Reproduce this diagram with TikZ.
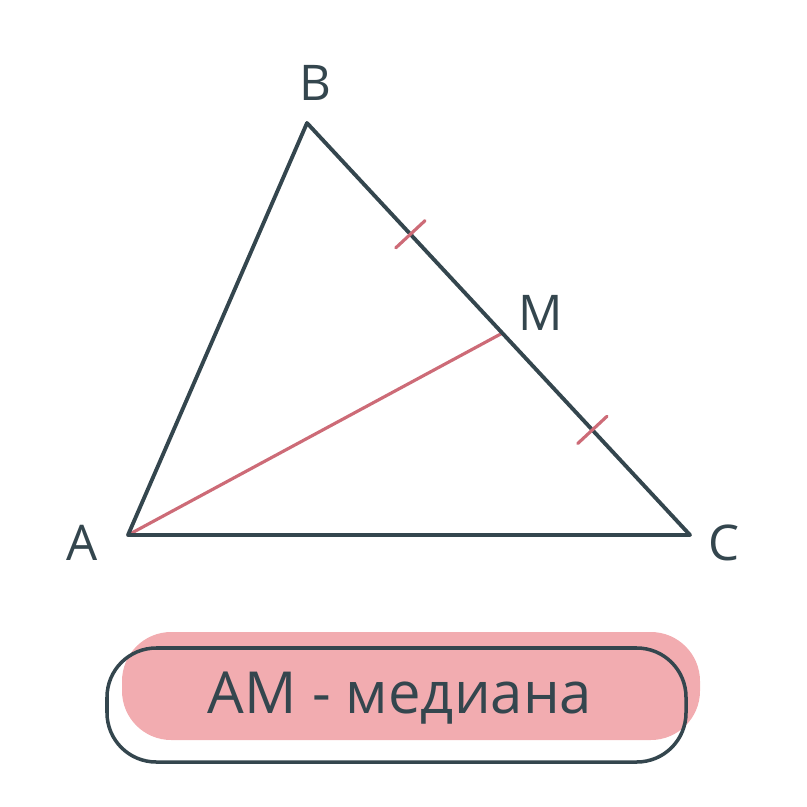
\documentclass[tikz,border=0pt]{standalone}
\usepackage{fontspec}
\setmainfont{Open Sans}
\usepackage{tikz}
\usetikzlibrary{calc,positioning}
\definecolor{ardoise}{RGB}{52,70,78}
\definecolor{rose}{RGB}{205,107,119}
\definecolor{rosepale}{RGB}{242,172,176}

\begin{document}
\begin{tikzpicture}[x=0.02cm, y=-0.02cm,
    cote/.style={ardoise, line width=2.2pt, line join=round},
    mediane/.style={rose, line width=1.8pt, line cap=round},
    trait/.style={rose, line width=1.8pt, line cap=round},
    lettre/.style={ardoise, font=\fontsize{28}{30}\selectfont}]
% Cadre
\useasboundingbox (0,0) rectangle (807,807);

% Sommets
\coordinate (A) at (128,535);
\coordinate (B) at (307,123);
\coordinate (C) at (690,535);
\coordinate (M) at ($(B)!0.51!(C)$);

% Mediane
\draw[mediane] (A) -- (M);

% Triangle
\draw[cote] (A) -- (B) -- (C) -- cycle;

% Marques d'egalite
\foreach \t/\nom in {0.27/t1, 0.745/t2} {
    \coordinate (\nom) at ($(B)!\t!(C)$);
    \draw[trait] ($(\nom)!0.4cm!90:(C)$) -- ($(\nom)!0.4cm!-90:(C)$);
}

% Noms des sommets
\node[lettre] (nA) at (82,543) {A};
\node[lettre] (nB) at (315,83) {B};
\node[lettre] (nC) at (724,543) {C};
\node[lettre] (nM) at (541,313) {M};

% Encadre
\fill[rosepale, rounded corners=28] (122,632) rectangle (700,740);
\draw[ardoise, line width=2pt, rounded corners=28] (107,648) rectangle (686,762);
\node[ardoise, font=\fontsize{33}{36}\selectfont] (titre) at (400,698) {AM - медиана};

\end{tikzpicture}
\end{document}
